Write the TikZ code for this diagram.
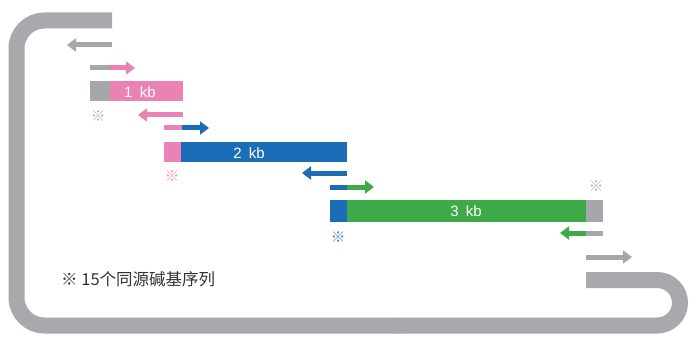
\documentclass[tikz,border=0pt]{standalone}
\usepackage{fontspec}
\setmainfont{Liberation Sans}
\newfontfamily\cjk{Noto Sans CJK SC}
\usetikzlibrary{arrows.meta}
\definecolor{bbgray}{HTML}{A8A9AD}
\definecolor{pgray}{HTML}{A6A7AB}
\definecolor{ppink}{HTML}{EA82B5}
\definecolor{pblue}{HTML}{1C6DB8}
\definecolor{pgreen}{HTML}{3DAA48}
\definecolor{agray}{HTML}{B0B0B0}
\definecolor{apink}{HTML}{EE8EB9}
\definecolor{ablue}{HTML}{3F7FC8}
\definecolor{ftext}{HTML}{333333}
\tikzset{
  backbone/.style={draw=bbgray, line width=16pt, line cap=butt},
  shaft/.style={line width=5pt, line cap=butt},
  prim/.style={line width=5pt, line cap=butt, -{Triangle[length=9pt,width=13pt]}},
  kbtext/.style={text=white, font=\fontsize{15}{15}\selectfont, inner sep=0pt, anchor=base},
  ast/.style={font=\cjk\fontsize{14.5}{14.5}\selectfont, inner sep=0pt},
}
\begin{document}
\begin{tikzpicture}[x=1pt,y=-1pt]
\useasboundingbox (0,0) rectangle (689,337);
\fill[white] (0,0) rectangle (689,337);
% backbone
\draw[backbone, rounded corners=28pt] (112,20.5) -- (16.5,20.5) -- (16.5,325.5) -- (400,325.5);
\draw[backbone, rounded corners=22.75pt] (399,325.5) -- (680,325.5) -- (680,280) -- (586,280);
% primers
\coordinate (a1s) at (112,45); \coordinate (a1e) at (67,45);
\draw[prim, pgray] (a1s) -- (a1e);
\coordinate (a2s) at (90,68); \coordinate (a2m) at (110,68); \coordinate (a2e) at (135,68);
\draw[shaft, pgray] (a2s) -- (a2m);
\draw[prim, ppink] (a2m) -- (a2e);
\coordinate (a3s) at (183,115); \coordinate (a3e) at (138,115);
\draw[prim, ppink] (a3s) -- (a3e);
\coordinate (a4s) at (164,128); \coordinate (a4m) at (182,128); \coordinate (a4e) at (209,128);
\draw[shaft, ppink] (a4s) -- (a4m);
\draw[prim, pblue] (a4m) -- (a4e);
\coordinate (a5s) at (347,173); \coordinate (a5e) at (302,173);
\draw[prim, pblue] (a5s) -- (a5e);
\coordinate (a6s) at (330,187); \coordinate (a6m) at (347,187); \coordinate (a6e) at (374,187);
\draw[shaft, pblue] (a6s) -- (a6m);
\draw[prim, pgreen] (a6m) -- (a6e);
\coordinate (a7s) at (603,233); \coordinate (a7m) at (586,233); \coordinate (a7e) at (560,233);
\draw[shaft, pgray] (a7s) -- (a7m);
\draw[prim, pgreen] (a7m) -- (a7e);
\coordinate (a8s) at (586,257); \coordinate (a8e) at (632,257);
\draw[prim, pgray] (a8s) -- (a8e);
% bars
\fill[pgray] (90,81) rectangle (110,101.5);
\fill[ppink] (110,81) rectangle (183,101.5);
\fill[ppink] (164,142) rectangle (181,162);
\fill[pblue] (181,142) rectangle (347,162);
\fill[pblue] (330,200) rectangle (347,222);
\fill[pgreen] (347,200) rectangle (586,222);
\fill[pgray] (586,200) rectangle (603,222);
\node[kbtext] (kb1) at (140,98) {1\hspace{0.22em} kb};
\node[kbtext] (kb2) at (249,158) {2\hspace{0.2em} kb};
\node[kbtext] (kb3) at (466,216.5) {3\hspace{0.2em} kb};
% homologous markers
\node[ast, text=agray] (s1) at (98,116) {※};
\node[ast, text=apink] (s2) at (172,176) {※};
\node[ast, text=agray] (s3) at (596,186) {※};
\node[ast, text=ablue] (s4) at (338,237) {※};
% footnote
\node[anchor=base west, inner sep=0pt, text=ftext, font=\cjk\fontsize{16.5}{16.5}\selectfont] (note) at (61,285) {※ 15个同源碱基序列};
\end{tikzpicture}
\end{document}
